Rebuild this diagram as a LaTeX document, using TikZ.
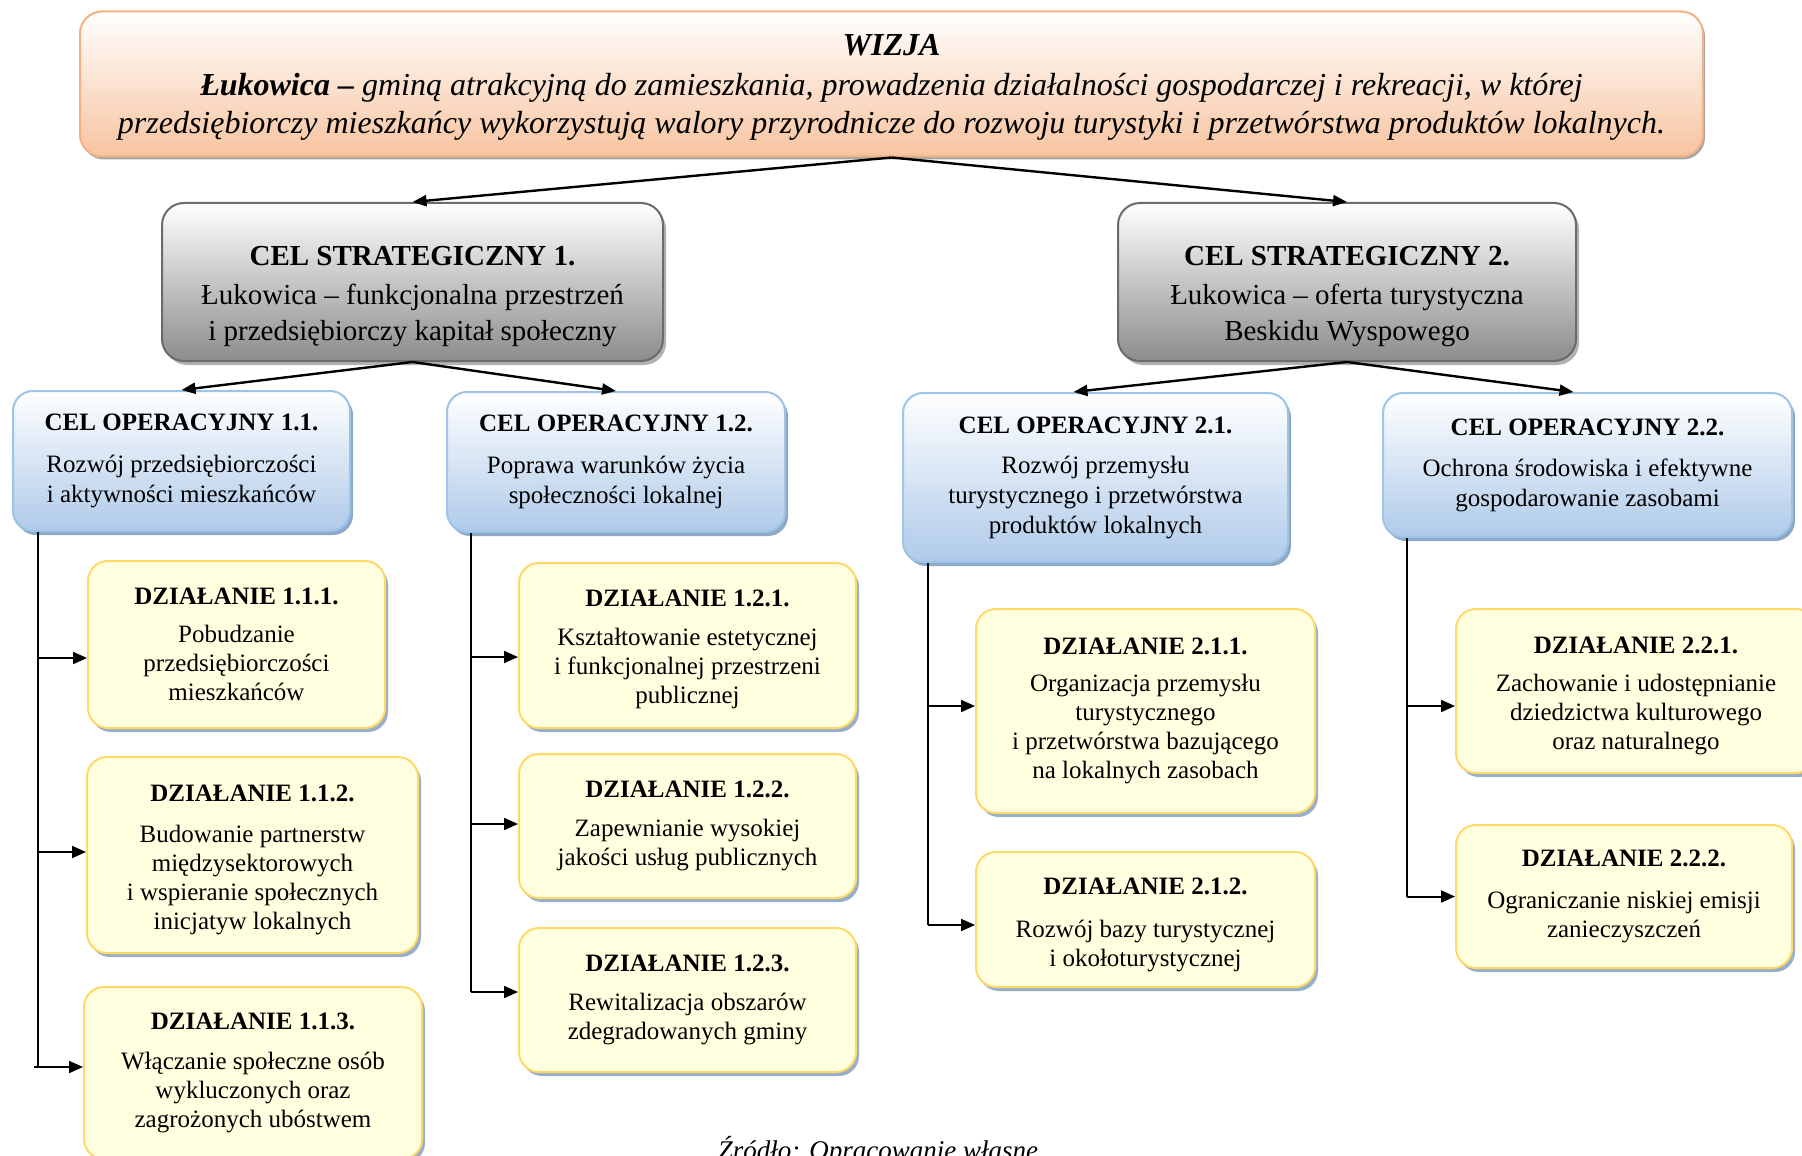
\documentclass[tikz,border=0pt]{standalone}
\usepackage{fontspec}
\setmainfont{Liberation Serif}
\usetikzlibrary{arrows.meta,calc,shadows,positioning}

\definecolor{visionline}{HTML}{F4B183}
\definecolor{visionfill}{HTML}{F7C4A0}
\definecolor{goalline}{HTML}{6B6B6B}
\definecolor{goalfill}{HTML}{8C8C8C}
\definecolor{opline}{HTML}{9DC3E6}
\definecolor{opfill}{HTML}{AFCAE9}
\definecolor{opshadow}{HTML}{8EA8C8}
\definecolor{actline}{HTML}{FFD966}
\definecolor{actfill}{HTML}{FFFFE0}
\definecolor{actshadow}{HTML}{98AFCB}

\begin{document}
\begin{tikzpicture}[x=0.5pt,y=-0.5pt,
	vision/.style={draw=visionline,line width=1pt,rounded corners=11pt,top color=white,bottom color=visionfill,
		drop shadow={shadow xshift=1pt,shadow yshift=-1.5pt,fill=gray!70,opacity=1},
		align=center,font=\fontsize{16}{19}\selectfont\itshape},
	goal/.style={draw=goalline,line width=1pt,rounded corners=11pt,top color=white,bottom color=goalfill,
		drop shadow={shadow xshift=1.5pt,shadow yshift=-2pt,fill=gray!60,opacity=1},
		align=center,font=\fontsize{14.5}{18}\selectfont},
	opgoal/.style={draw=opline,line width=1pt,rounded corners=10pt,top color=white,bottom color=opfill,
		drop shadow={shadow xshift=1.5pt,shadow yshift=-2pt,fill=opshadow,opacity=1},
		align=center,font=\fontsize{12.5}{15}\selectfont},
	action/.style={draw=actline,line width=1pt,rounded corners=10pt,fill=actfill,
		drop shadow={shadow xshift=1.5pt,shadow yshift=-2pt,fill=actshadow,opacity=1},
		align=center,font=\fontsize{12.5}{14.5}\selectfont},
	link/.style={-{Triangle[length=7pt,width=5.5pt]},line width=1.2pt},
	sidelink/.style={-{Triangle[length=7pt,width=6pt]},line width=1pt},
	spine/.style={line width=0.7pt}]

\useasboundingbox (0,0) rectangle (1802,1155);

%vision
\node[vision,minimum width=811.5pt,minimum height=72.5pt] (wizja) at (891.5,84)
{\rule{0pt}{14pt}\textbf{WIZJA}\\[1pt]
\textbf{Łukowica –} gminą atrakcyjną do zamieszkania, prowadzenia działalności gospodarczej i rekreacji, w której\\
przedsiębiorczy mieszkańcy wykorzystują walory przyrodnicze do rozwoju turystyki i przetwórstwa produktów lokalnych.};

%strategic goals
\node[goal,minimum width=250.5pt,minimum height=79pt] (cs1) at (412.5,282)
{\rule{0pt}{24pt}\textbf{CEL STRATEGICZNY 1.}\\[1.5pt]Łukowica – funkcjonalna przestrzeń\\i przedsiębiorczy kapitał społeczny};
\node[goal,minimum width=229pt,minimum height=79pt] (cs2) at (1347,282)
{\rule{0pt}{24pt}\textbf{CEL STRATEGICZNY 2.}\\[1.5pt]Łukowica – oferta turystyczna\\Beskidu Wyspowego};

%operational goals
\node[opgoal,minimum width=168.5pt,minimum height=70pt] (co11) at (181.5,461)
{\textbf{CEL OPERACYJNY 1.1.}\\[6pt]Rozwój przedsiębiorczości\\i aktywności mieszkańców};
\node[opgoal,minimum width=169pt,minimum height=70pt] (co12) at (616,462)
{\textbf{CEL OPERACYJNY 1.2.}\\[6pt]Poprawa warunków życia\\społeczności lokalnej};
\node[opgoal,minimum width=192.5pt,minimum height=84.5pt] (co21) at (1095.5,477.5)
{\textbf{CEL OPERACYJNY 2.1.}\\[5pt]Rozwój przemysłu\\turystycznego i przetwórstwa\\produktów lokalnych};
\node[opgoal,minimum width=204.5pt,minimum height=72pt] (co22) at (1587.5,465)
{\textbf{CEL OPERACYJNY 2.2.}\\[5.5pt]Ochrona środowiska i efektywne\\gospodarowanie zasobami};

%actions 1.1
\node[action,minimum width=148.5pt,minimum height=83.5pt] (a111) at (236.5,644.5)
{\textbf{DZIAŁANIE 1.1.1.}\\[4.6pt]Pobudzanie\\przedsiębiorczości\\mieszkańców};
\node[action,minimum width=165.5pt,minimum height=98pt] (a112) at (252.5,855)
{\rule{0pt}{13pt}\textbf{DZIAŁANIE 1.1.2.}\\[5.7pt]Budowanie partnerstw\\międzysektorowych\\i wspieranie społecznych\\inicjatyw lokalnych};
\node[action,minimum width=169pt,minimum height=86pt] (a113) at (253,1073)
{\textbf{DZIAŁANIE 1.1.3.}\\[5.2pt]Włączanie społeczne osób\\wykluczonych oraz\\zagrożonych ubóstwem};

%actions 1.2
\node[action,minimum width=168.5pt,minimum height=82.5pt] (a121) at (687.5,645.5)
{\rule{0pt}{12pt}\textbf{DZIAŁANIE 1.2.1.}\\[5.2pt]Kształtowanie estetycznej\\i funkcjonalnej przestrzeni\\publicznej};
\node[action,minimum width=168.5pt,minimum height=72pt] (a122) at (687.5,826)
{\textbf{DZIAŁANIE 1.2.2.}\\[4.6pt]Zapewnianie wysokiej\\jakości usług publicznych};
\node[action,minimum width=168.5pt,minimum height=72pt] (a123) at (687.5,1000)
{\textbf{DZIAŁANIE 1.2.3.}\\[5.2pt]Rewitalizacja obszarów\\zdegradowanych gminy};

%actions 2.1
\node[action,minimum width=169.5pt,minimum height=102pt] (a211) at (1145.5,711)
{\textbf{DZIAŁANIE 2.1.1.}\\[4pt]Organizacja przemysłu\\turystycznego\\i przetwórstwa bazującego\\na lokalnych zasobach};
\node[action,minimum width=169.5pt,minimum height=67.5pt] (a212) at (1145.5,919.5)
{\rule{0pt}{14pt}\textbf{DZIAŁANIE 2.1.2.}\\[6.9pt]Rozwój bazy turystycznej\\i okołoturystycznej};

%actions 2.2
\node[action,minimum width=180pt,minimum height=82pt] (a221) at (1636,691)
{\rule{0pt}{13pt}\textbf{DZIAŁANIE 2.2.1.}\\[4.6pt]Zachowanie i udostępnianie\\dziedzictwa kulturowego\\oraz naturalnego};
\node[action,minimum width=168pt,minimum height=71.5pt] (a222) at (1624,896.5)
{\textbf{DZIAŁANIE 2.2.2.}\\[6.9pt]Ograniczanie niskiej emisji\\zanieczyszczeń};

%top arrows
\draw[link] (wizja.south) -- (cs1.north);
\draw[link] (wizja.south) -- (cs2.north);
\draw[link] (cs1.south) -- (co11.north);
\draw[link] (cs1.south) -- (co12.north);
\draw[link] (cs2.south) -- ($(co21.north)+(-22,0)$);
\draw[link] (cs2.south) -- ($(co22.north)+(-14,0)$);

%spines
\coordinate (s11) at ($(co11.south west)+(26,0)$);
\coordinate (s12) at ($(co12.south west)+(25,0)$);
\coordinate (s21) at ($(co21.south west)+(26,0)$);
\coordinate (s22) at ($(co22.south west)+(25,0)$);
\draw[spine] (s11) -- ($(s11 |- a113.west)+(0,-6)$);
\draw[spine] (s12) -- ($(s12 |- a123.west)+(0,-8)$);
\draw[spine] (s21) -- ($(s21 |- a212.west)+(0,5.5)$);
\draw[spine] (s22) -- ($(s22 |- a222.west)+(0,0)$);

\draw[sidelink] ($(s11 |- a111.west)+(0,13.5)$) -- ($(a111.west)+(0,13.5)$);
\draw[sidelink] ($(s11 |- a112.west)+(0,-3)$) -- ($(a112.west)+(0,-3)$);
\draw[sidelink] ($(s11 |- a113.west)+(-4,-6)$) -- ($(a113.west)+(0,-6)$);
\draw[sidelink] ($(s12 |- a121.west)+(0,11.5)$) -- ($(a121.west)+(0,11.5)$);
\draw[sidelink] ($(s12 |- a122.west)+(0,-2)$) -- ($(a122.west)+(0,-2)$);
\draw[sidelink] ($(s12 |- a123.west)+(0,-8)$) -- ($(a123.west)+(0,-8)$);
\draw[sidelink] ($(s21 |- a211.west)+(0,-5)$) -- ($(a211.west)+(0,-5)$);
\draw[sidelink] ($(s21 |- a212.west)+(0,5.5)$) -- ($(a212.west)+(0,5.5)$);
\draw[sidelink] ($(s22 |- a221.west)+(0,15)$) -- ($(a221.west)+(0,15)$);
\draw[sidelink] ($(s22 |- a222.west)$) -- (a222.west);

%source
\node[anchor=base,font=\fontsize{13.5}{16}\selectfont\itshape] (src) at (878,1159) {Źródło: Opracowanie własne};

\end{tikzpicture}
\end{document}
